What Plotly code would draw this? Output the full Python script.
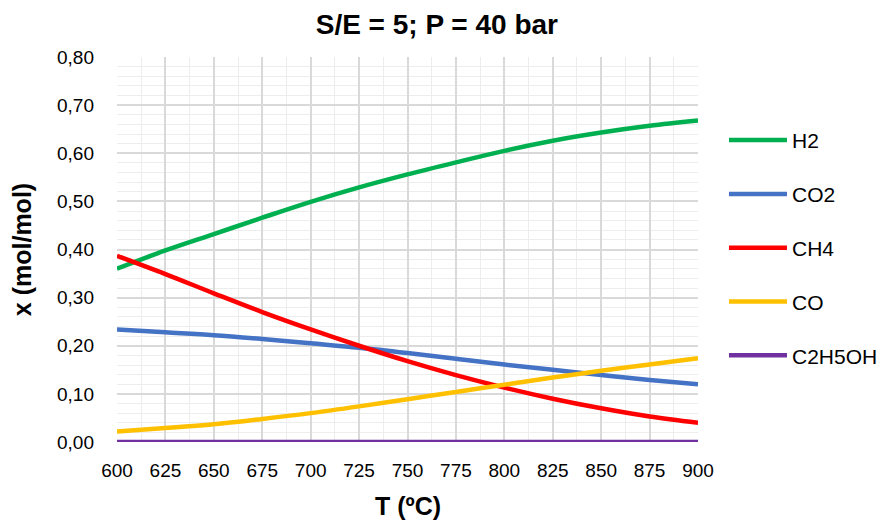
import plotly.graph_objects as go

T = [600, 625, 650, 675, 700, 725, 750, 775, 800, 825, 850, 875, 900]
H2 = [0.360, 0.398, 0.432, 0.466, 0.499, 0.529, 0.556, 0.581, 0.605, 0.626, 0.643, 0.657, 0.668]
CO2 = [0.234, 0.228, 0.222, 0.214, 0.205, 0.196, 0.185, 0.173, 0.161, 0.150, 0.139, 0.129, 0.120]
CH4 = [0.387, 0.349, 0.309, 0.270, 0.234, 0.200, 0.168, 0.139, 0.113, 0.090, 0.070, 0.053, 0.040]
CO = [0.022, 0.029, 0.037, 0.048, 0.060, 0.074, 0.089, 0.104, 0.119, 0.134, 0.148, 0.161, 0.174]
C2H5OH = [0.0] * 13

series = [("H2", H2, "#00B050"), ("CO2", CO2, "#4472C4"), ("CH4", CH4, "#FF0000"),
          ("CO", CO, "#FFC000"), ("C2H5OH", C2H5OH, "#7030A0")]

fig = go.Figure()
for name, vals, col in series:
    fig.add_trace(go.Scatter(x=T, y=vals, mode="lines", name=name, legendgroup=name, cliponaxis=False,
                             line=dict(color=col, width=4.5, shape="spline")))

font = "Liberation Sans"
fig.update_layout(
    width=877, height=516,
    margin=dict(l=107, r=187, t=49, b=82),
    paper_bgcolor="white", plot_bgcolor="white",
    separators=", ",
    title=dict(text="<b>S/E = 5; P = 40 bar</b>", x=0.489, xanchor="center", y=0.969, yanchor="middle",
               font=dict(family=font, size=28, color="black")),
    font=dict(family=font, color="black"),
    legend=dict(x=0.8164, y=0.783, xref="container", yref="container", xanchor="left", yanchor="top",
                tracegroupgap=23.5, itemwidth=58, font=dict(size=21, family=font, color="black"),
                bgcolor="rgba(0,0,0,0)"),
    showlegend=True,
    annotations=[dict(text="<b>T (ºC)</b>", x=0.5, y=-0.1662, xref="paper", yref="paper",
                      xanchor="center", yanchor="middle", showarrow=False,
                      font=dict(size=25, family=font, color="black"))],
)
fig.update_xaxes(range=[600, 900], dtick=25, tick0=600, showgrid=True, gridcolor="#D9D9D9", gridwidth=1.5,
                 minor=dict(dtick=12.5, showgrid=True, gridcolor="#EDEDED", gridwidth=1),
                 zeroline=False, showline=False, ticks="", ticklabelstandoff=15, automargin=False,
                 tickfont=dict(size=19, family=font, color="black"))
fig.update_yaxes(range=[0, 0.8], dtick=0.1, tickformat=".2f", showgrid=True, gridcolor="#D9D9D9", gridwidth=1.5,
                 minor=dict(dtick=0.02, showgrid=True, gridcolor="#EDEDED", gridwidth=1),
                 zeroline=False, showline=False, ticks="", ticklabelstandoff=22,
                 tickfont=dict(size=19, family=font, color="black"),
                 title=dict(text="<b>x (mol/mol)</b>", font=dict(size=25, family=font, color="black"), standoff=20))

fig.write_html("out.html")
